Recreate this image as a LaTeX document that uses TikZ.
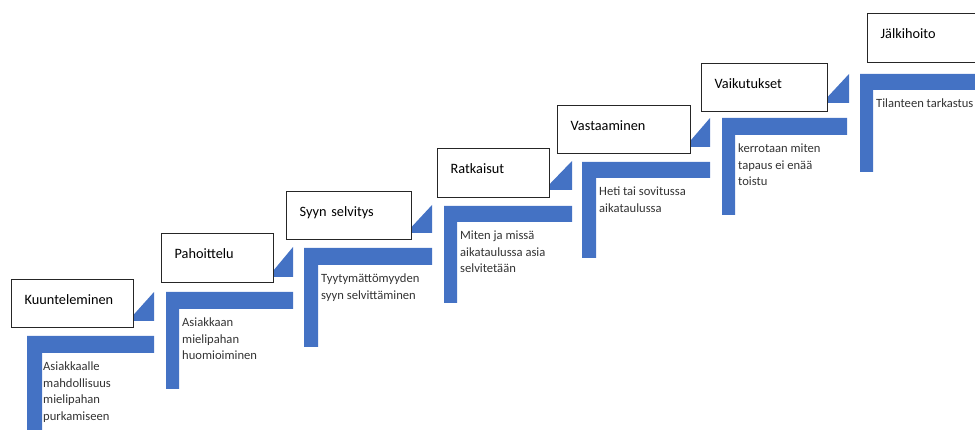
\documentclass[tikz,border=0pt]{standalone}
\usepackage{fontspec}
\setmainfont{Carlito}
\definecolor{stepblue}{HTML}{4472C4}
\definecolor{boxline}{HTML}{262626}
\tikzset{
  titlebox/.style={draw=boxline, line width=1.3pt, fill=white, anchor=north west,
    inner xsep=13pt, inner ysep=0pt, align=left, text height=9pt, text depth=8pt,
    text width=#1-26pt,
    font=\fontsize{14.3}{17}\selectfont},
  desctext/.style={anchor=north west, inner sep=0pt, align=left,
    font=\fontsize{12.6}{16.5}\selectfont, text=black!80},
  bluefill/.style={fill=stepblue, draw=none}
}
% \myLshape{x1}{ytop}{xright}{ybarbottom}{xvertright}{ybottom}
\newcommand{\myLshape}[6]{%
  \fill[stepblue] (#1,#2) -- (#3,#2) -- (#3,#4) -- (#5,#4) -- (#5,#6) -- (#1,#6) -- cycle;}
% \mytri{xleft}{ytop}{xright}{ybottom}
\newcommand{\mytri}[4]{%
  \fill[stepblue] (#3,#2) -- (#3,#4) -- (#1,#4) -- cycle;}
\begin{document}
\begin{tikzpicture}[x=1pt,y=-1pt]
\useasboundingbox (0,0) rectangle (975,430);
% L shapes
\myLshape{27}{336}{154}{353}{42}{432}
\myLshape{166}{292}{293}{309}{179}{389}
\myLshape{304}{248}{432}{265}{318}{347}
\myLshape{444}{206}{572}{222}{457}{303}
\myLshape{582}{162}{710}{178}{596}{258}
\myLshape{722}{118}{847}{135}{735}{215}
\myLshape{860}{74}{985}{90}{873}{172}
% triangles
\mytri{128}{292}{154}{321}
\mytri{268}{247}{293}{277}
\mytri{406}{205}{432}{233}
\mytri{544}{161}{572}{190}
\mytri{685}{118}{710}{147}
\mytri{822}{74}{849}{103}
% title boxes
\node[titlebox=122pt, minimum height=48pt] (b1) at (11,279) {Kuunteleminen};
\node[titlebox=112pt, minimum height=49pt] (b2) at (161,233) {Pahoittelu};
\node[titlebox=125pt, minimum height=48pt] (b3) at (286,191) {Syyn selvitys};
\node[titlebox=112pt, minimum height=49pt] (b4) at (437,148) {Ratkaisut};
\node[titlebox=133pt, minimum height=48pt] (b5) at (557,105) {Vastaaminen};
\node[titlebox=126pt, minimum height=48pt] (b6) at (701,63) {Vaikutukset};
\node[titlebox=130pt, minimum height=49pt] (b7) at (867,13) {Jälkihoito};
% descriptions
\node[desctext] (d1) at (43,362) {Asiakkaalle\\mahdollisuus\\mielipahan\\purkamiseen};
\node[desctext] (d2) at (182,318) {Asiakkaan\\mielipahan\\huomioiminen};
\node[desctext] (d3) at (321,274) {Tyytymättömyyden\\syyn selvittäminen};
\node[desctext] (d4) at (460,231) {Miten ja missä\\aikataulussa asia\\selvitetään};
\node[desctext] (d5) at (599,187) {Heti tai sovitussa\\aikataulussa};
\node[desctext] (d6) at (738,144) {kerrotaan miten\\tapaus ei enää\\toistu};
\node[desctext] (d7) at (876,99) {Tilanteen tarkastus};
\end{tikzpicture}
\end{document}
